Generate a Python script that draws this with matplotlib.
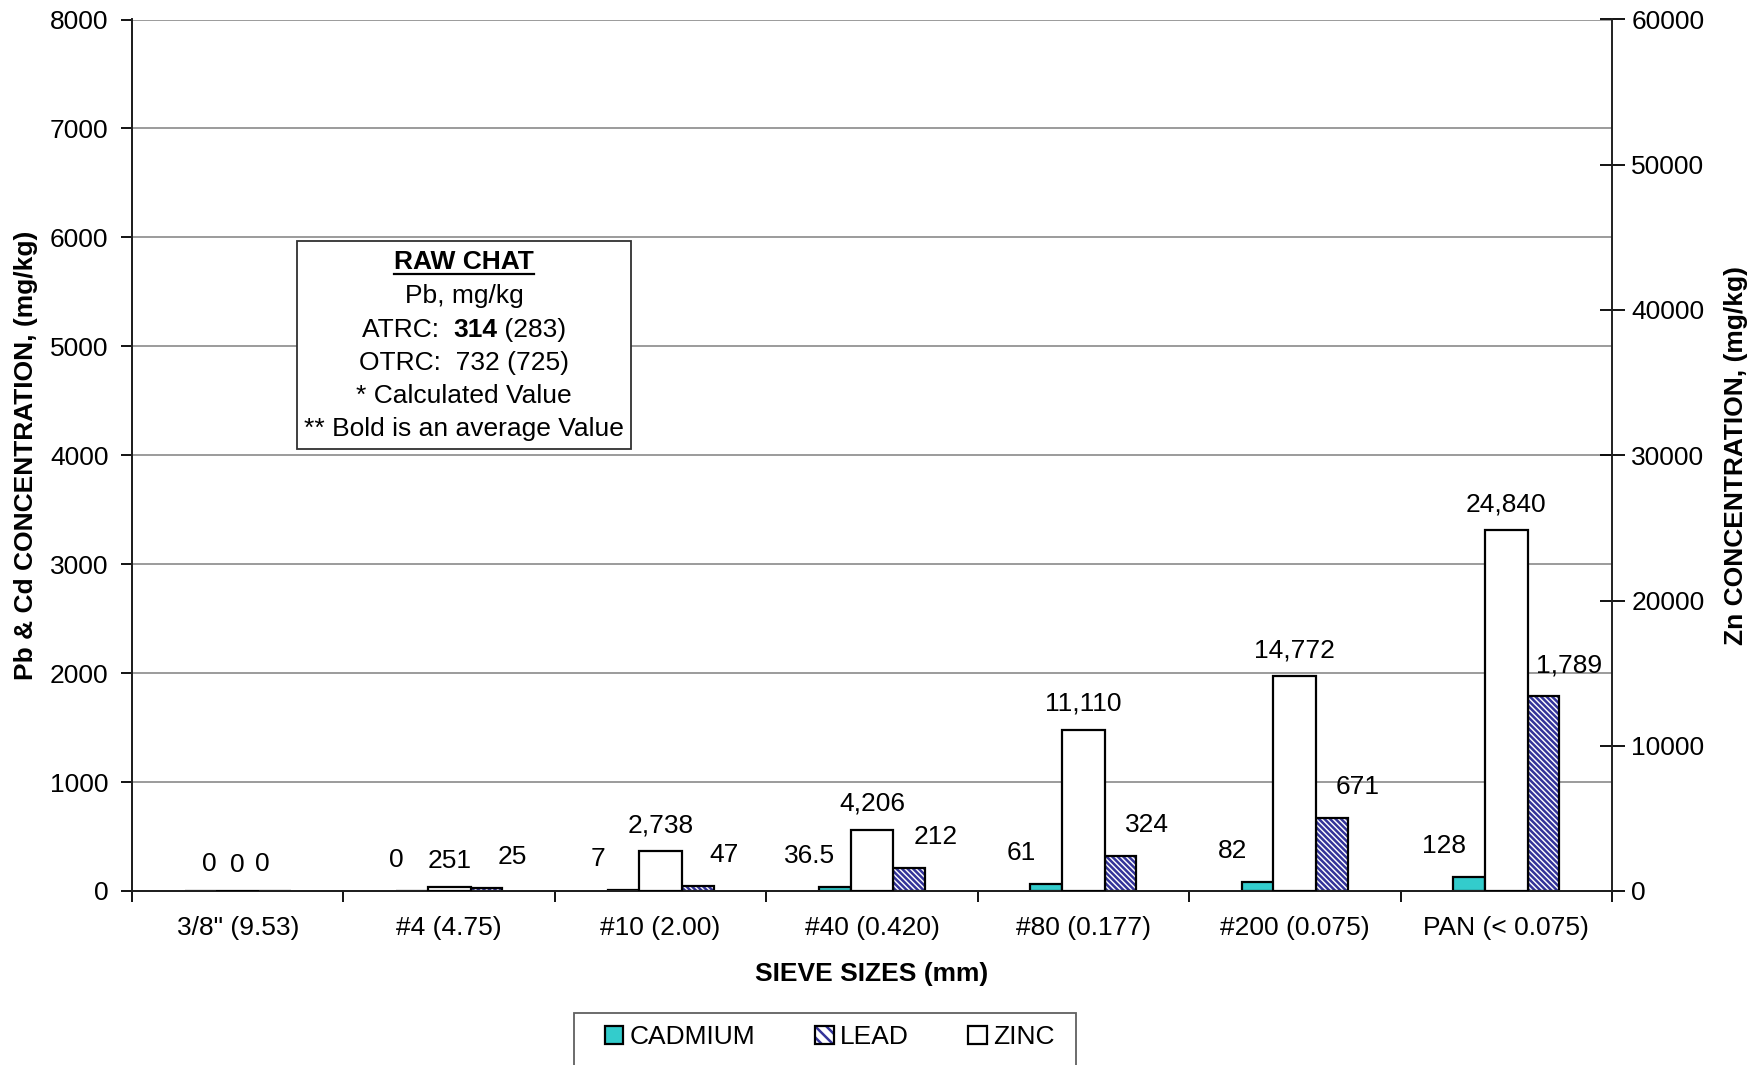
#!/usr/bin/env python3
"""sieve size fractions - Pb, Cd and Zn concentrations (raw chat)"""

import numpy as np
import matplotlib

matplotlib.use("Agg")
import matplotlib.pyplot as plt
from matplotlib.patches import Patch, Rectangle
from matplotlib.lines import Line2D

plt.rcParams["font.family"] = ["Liberation Sans", "DejaVu Sans"]
plt.rcParams["hatch.linewidth"] = 1.8

#
# DATA
#
sieve_sizes = ['3/8" (9.53)', "#4 (4.75)", "#10 (2.00)", "#40 (0.420)", "#80 (0.177)", "#200 (0.075)", "PAN (< 0.075)"]
cadmium = [0, 0, 7, 36.5, 61, 82, 128]
lead = [0, 25, 47, 212, 324, 671, 1789]
zinc = [0, 251, 2738, 4206, 11110, 14772, 24840]

cadmium_labels = ["0", "0", "7", "36.5", "61", "82", "128"]
lead_labels = ["0", "25", "47", "212", "324", "671", "1,789"]
zinc_labels = ["0", "251", "2,738", "4,206", "11,110", "14,772", "24,840"]

box_lines = ["Pb, mg/kg", None, "OTRC:  732 (725)", "* Calculated Value", "** Bold is an average Value"]

CD_COLOR = "#33CCCC"
PB_COLOR = "#333399"
PB_HATCH = "\\" * 6
FS = 19

W, H = 1765, 1065
fig = plt.figure(figsize=(W / 100, H / 100), dpi=100)
ax = fig.add_axes([132 / W, 1 - 891 / H, 1480 / W, 871.5 / H])
ax2 = ax.twinx()

x = np.arange(len(sieve_sizes)) + 0.5
off = 0.176

# primary axis: cadmium + lead
ax.bar(x - off, cadmium, width=0.15, color=CD_COLOR, edgecolor="black", linewidth=1.6, zorder=3)
ax.bar(x + off, lead, width=0.15, color="white", edgecolor=PB_COLOR, hatch=PB_HATCH, linewidth=0, zorder=3)
ax.bar(x + off, lead, width=0.15, fill=False, edgecolor="black", linewidth=1.6, zorder=4)

# secondary axis: zinc
ax2.bar(x, zinc, width=0.203, color="white", edgecolor="black", linewidth=1.6, zorder=3)

ax.set_xlim(0, len(sieve_sizes))
ax.set_ylim(0, 8000)
ax2.set_ylim(0, 60000)

ax.set_yticks(np.arange(0, 8001, 1000))
ax2.set_yticks(np.arange(0, 60001, 10000))
ax.set_xticks(np.arange(0, len(sieve_sizes) + 1))
ax.set_xticklabels([])
ax.set_xticks(x, minor=True)
ax.set_xticklabels(sieve_sizes, minor=True, fontsize=FS)

ax.tick_params(axis="x", which="major", direction="out", length=8, width=1.3)
ax.tick_params(axis="x", which="minor", length=0, pad=18)
ax.tick_params(axis="y", direction="out", length=8, width=1.3, labelsize=FS, pad=9)
ax2.tick_params(axis="y", direction="inout", length=18, width=1.3, labelsize=FS, pad=5)

ax.grid(axis="y", color="#808080", linewidth=1.1, zorder=0)
ax.set_axisbelow(True)

for a in (ax, ax2):
    a.spines["top"].set_visible(False)
    for s in ("left", "right", "bottom"):
        a.spines[s].set_linewidth(1.4)
        a.spines[s].set_color("#202020")
ax.spines["right"].set_visible(False)

ax.set_ylabel("Pb & Cd CONCENTRATION, (mg/kg)", fontsize=FS, fontweight="bold")
ax.yaxis.set_label_coords(-0.0635, 0.5)
ax2.set_ylabel("Zn CONCENTRATION, (mg/kg)", fontsize=FS, fontweight="bold", rotation=90)
ax2.yaxis.set_label_coords(1.0757, 0.5)
ax.set_xlabel("SIEVE SIZES (mm)", fontsize=FS, fontweight="bold")
ax.xaxis.set_label_coords(0.5, -0.0815)

#
# value labels (offsets in pixels)
#
px = 0.72
for i in range(len(x)):
    all_zero = cadmium[i] == 0 and lead[i] == 0 and zinc[i] == 0
    cd_dx, pb_dx = (9, -13) if all_zero else ((-16, 26) if cadmium[i] == 0 else (-25, 26))
    dy = 27 if all_zero else 31
    ax.annotate(cadmium_labels[i], (x[i] - off, cadmium[i]), xytext=(cd_dx * px, dy * px),
                textcoords="offset points", ha="center", va="center", fontsize=FS)
    ax.annotate(lead_labels[i], (x[i] + off, lead[i]), xytext=(pb_dx * px, dy * px),
                textcoords="offset points", ha="center", va="center", fontsize=FS)
    ax2.annotate(zinc_labels[i], (x[i], zinc[i]), xytext=(0, 26 * px),
                 textcoords="offset points", ha="center", va="center", fontsize=FS)

#
# RAW CHAT text box
#
fig.add_artist(Rectangle((297 / W, 1 - 449 / H), (631.5 - 297) / W, (449 - 241) / H,
                         transform=fig.transFigure, facecolor="white", edgecolor="#303030", linewidth=1.3, zorder=5))
cx = 464 / W
line_y = [262, 296, 330, 363, 396, 429]
title = fig.text(cx, 1 - line_y[0] / H, "RAW CHAT", ha="center", va="center", fontsize=FS,
                 fontweight="bold", zorder=6)
for yy, txt in zip(line_y[1:], box_lines):
    if txt is not None:
        fig.text(cx, 1 - yy / H, txt, ha="center", va="center", fontsize=FS, zorder=6)

renderer = fig.canvas.get_renderer()
tb = title.get_window_extent(renderer)
fig.add_artist(Line2D([tb.x0 / W, tb.x1 / W], [1 - 274 / H, 1 - 274 / H], transform=fig.transFigure,
                      color="black", linewidth=1.6, zorder=6))

# ATRC line with the bold average value
parts = [("ATRC:  ", "normal"), ("314", "bold"), (" (283)", "normal")]
arts = [fig.text(0, 1 - line_y[2] / H, p, fontweight=w, fontsize=FS, va="center", zorder=6) for p, w in parts]
widths = [a.get_window_extent(renderer).width for a in arts]
xs = 464 - sum(widths) / 2
for a, wd in zip(arts, widths):
    a.set_x(xs / W)
    xs += wd

#
# legend
#
handles = [
    Patch(facecolor=CD_COLOR, edgecolor="black", linewidth=1.6),
    (Patch(facecolor="white", edgecolor=PB_COLOR, hatch="\\\\\\", linewidth=0),
     Patch(fill=False, edgecolor="black", linewidth=1.6)),
    Patch(facecolor="white", edgecolor="black", linewidth=1.6),
]
fig.legend(handles, ["CADMIUM", "LEAD", "ZINC"], loc="upper left", bbox_to_anchor=(605 / W, 1 - 1025 / H),
           ncol=3, frameon=False, fontsize=FS, handlelength=0.7, handleheight=0.7, handletextpad=0.25,
           columnspacing=2.25, borderpad=0, borderaxespad=0)
fig.add_artist(Rectangle((574 / W, -0.02), (1076 - 574) / W, 0.02 + 1 - 1013 / H, transform=fig.transFigure,
                         fill=False, edgecolor="#606060", linewidth=1.3))

fig.savefig("out.png", dpi=100)
